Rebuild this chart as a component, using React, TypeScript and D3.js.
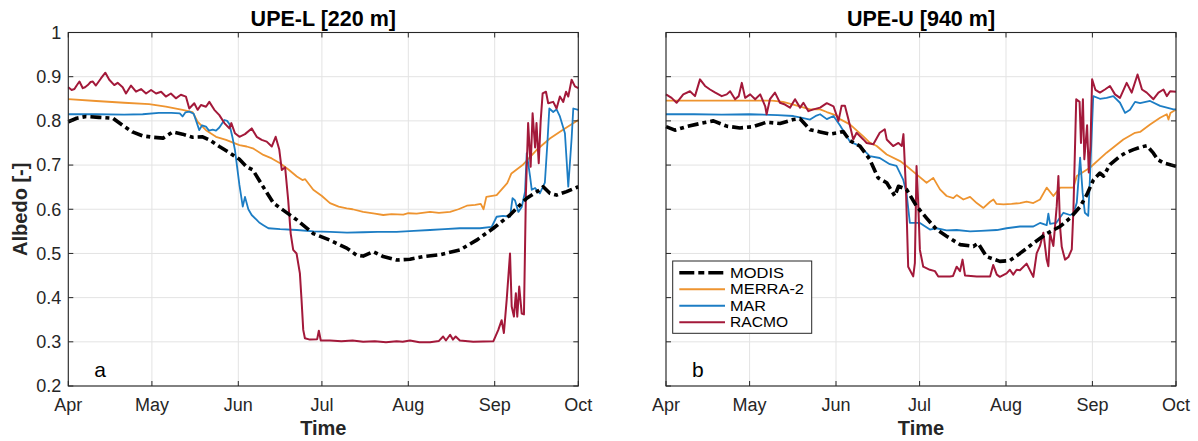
import React from "react";
import * as d3 from "d3";

type Pt = [number, number];

// day offsets from Apr 1, albedo values
const monthLabels = ["Apr", "May", "Jun", "Jul", "Aug", "Sep", "Oct"];
const monthDays = [0, 30, 61, 91, 122, 153, 183];
const yTicks = [0.2, 0.3, 0.4, 0.5, 0.6, 0.7, 0.8, 0.9, 1];
const yTickLabels = ["0.2", "0.3", "0.4", "0.5", "0.6", "0.7", "0.8", "0.9", "1"];

const seriesNames = ["MODIS", "MERRA-2", "MAR", "RACMO"];
const legendTextWidths = [54, 74, 36, 58];
const seriesColors = ["#000000", "#EE9430", "#1C7DC4", "#A3193A"];
const panelTitles = ["UPE-L [220 m]", "UPE-U [940 m]"];
const panelLetters = ["a", "b"];

const modisA: Pt[] = [[0,0.798],[3,0.806],[6.4,0.810],[11,0.808],[16,0.806],[19.5,0.790],[23,0.775],[26.7,0.766],[30.3,0.763],[34,0.761],[37.5,0.775],[41,0.770],[44.6,0.763],[48.2,0.764],[50.6,0.757],[54.2,0.742],[57.8,0.728],[61.4,0.713],[64,0.696],[66.2,0.689],[70,0.650],[73.6,0.614],[77.1,0.598],[82,0.576],[87.9,0.545],[93.9,0.530],[99.9,0.512],[103.5,0.496],[105.8,0.494],[109.4,0.504],[113,0.493],[117.8,0.485],[122.6,0.487],[127.4,0.493],[133.5,0.497],[140.5,0.508],[146.5,0.530],[152.5,0.557],[158.5,0.587],[164.5,0.625],[169.2,0.644],[170.4,0.651],[172.8,0.636],[175.2,0.632],[178.8,0.640],[183,0.651]];
const merraA: Pt[] = [[0,0.849],[10,0.845],[20,0.841],[29,0.838],[35,0.832],[41,0.825],[44.6,0.820],[46.4,0.798],[49.4,0.779],[53,0.764],[56.6,0.757],[61.4,0.745],[64,0.742],[66.2,0.738],[70,0.723],[73,0.715],[76,0.704],[79,0.690],[82,0.674],[84,0.666],[85,0.668],[87.9,0.644],[91,0.630],[93.9,0.614],[97,0.606],[99.9,0.602],[102,0.600],[105.8,0.594],[110,0.590],[113,0.587],[116,0.589],[120.2,0.588],[122,0.591],[125,0.590],[129.8,0.594],[133,0.592],[137,0.594],[140,0.600],[143,0.608],[146,0.610],[148,0.612],[149,0.600],[150,0.628],[153.7,0.632],[157.5,0.659],[159,0.681],[163,0.700],[168,0.734],[172.8,0.760],[177.5,0.780],[183,0.802]];
const marA: Pt[] = [[0,0.815],[10,0.815],[20,0.814],[26.7,0.815],[32.5,0.818],[37,0.818],[40,0.817],[41,0.810],[42,0.819],[43.4,0.821],[45,0.816],[47,0.779],[48,0.790],[49.4,0.787],[50.5,0.778],[51.8,0.780],[53,0.778],[54.2,0.785],[56,0.802],[57,0.800],[57.8,0.793],[59,0.760],[59.8,0.734],[61.4,0.655],[62.6,0.606],[63.4,0.628],[64.6,0.600],[65.8,0.587],[67.6,0.576],[68.5,0.570],[70,0.564],[71.8,0.557],[76,0.555],[82,0.553],[88,0.550],[94,0.549],[100,0.547],[105.8,0.548],[111,0.549],[117.8,0.549],[124,0.551],[129.8,0.553],[135,0.555],[140.5,0.557],[147.7,0.557],[151.9,0.560],[153.7,0.583],[156,0.585],[158.5,0.583],[159.4,0.625],[160.3,0.620],[161.5,0.594],[162.7,0.605],[163.9,0.640],[164.5,0.727],[165.7,0.674],[166.3,0.644],[167.5,0.648],[169.2,0.636],[171,0.660],[171.9,0.749],[172.6,0.828],[174,0.820],[175.2,0.826],[176.4,0.810],[178.2,0.772],[179.4,0.651],[180.6,0.760],[181.2,0.828],[183,0.825]];
const racmoA: Pt[] = [[0,0.876],[1.2,0.870],[2.2,0.872],[3,0.880],[4,0.889],[5.2,0.874],[6,0.876],[7,0.881],[8,0.888],[8.8,0.889],[9.9,0.880],[11.7,0.896],[13.3,0.909],[14.7,0.893],[16.5,0.881],[17.7,0.886],[19.5,0.876],[20.7,0.862],[22.5,0.880],[24.3,0.866],[26.1,0.872],[27.9,0.862],[29.7,0.870],[31.5,0.862],[33.3,0.866],[35,0.855],[36.8,0.862],[38.6,0.851],[40.4,0.859],[42.2,0.855],[43.4,0.828],[45.2,0.840],[46.4,0.825],[47.6,0.836],[49.4,0.832],[50.6,0.843],[52.4,0.825],[54.2,0.813],[56,0.795],[57.8,0.783],[58.5,0.795],[59.8,0.772],[61.4,0.764],[63.4,0.770],[65.8,0.783],[67.6,0.764],[69.4,0.757],[71.2,0.753],[73,0.742],[74.4,0.764],[75.7,0.735],[76.6,0.689],[77.8,0.695],[78.9,0.621],[79.8,0.545],[80.7,0.508],[81.9,0.500],[83.1,0.455],[83.7,0.394],[84.3,0.327],[84.9,0.308],[86.7,0.305],[89.3,0.306],[89.9,0.325],[90.6,0.303],[93.9,0.303],[98,0.301],[102,0.303],[105.8,0.300],[110,0.301],[114,0.299],[117.8,0.301],[120,0.300],[122.6,0.303],[126,0.299],[129.8,0.299],[133,0.302],[134.5,0.312],[135.5,0.303],[137,0.316],[138,0.305],[139,0.312],[140.5,0.303],[145.3,0.300],[152.5,0.301],[154.3,0.327],[155.5,0.349],[156.3,0.320],[157.3,0.395],[158.5,0.500],[159.1,0.380],[159.9,0.357],[160.6,0.410],[161.1,0.357],[161.8,0.425],[162.7,0.364],[163.5,0.362],[164.2,0.636],[165,0.795],[165.9,0.696],[166.6,0.817],[167.5,0.740],[168,0.795],[168.8,0.704],[169.5,0.800],[170.2,0.862],[171.4,0.866],[172.2,0.840],[174,0.843],[175.2,0.828],[176.4,0.855],[177.6,0.843],[178.6,0.866],[179.4,0.855],[180.6,0.893],[181.8,0.878],[183,0.874]];

const modisB: Pt[] = [[0,0.787],[3.2,0.779],[7.4,0.787],[12.2,0.794],[17,0.800],[21.8,0.788],[26.5,0.784],[31.3,0.787],[36.1,0.797],[40.9,0.794],[45.7,0.803],[48.1,0.805],[51.7,0.780],[55.3,0.775],[58.9,0.770],[62.4,0.774],[63.6,0.776],[66,0.755],[69.6,0.743],[73.1,0.713],[76.1,0.671],[79.2,0.660],[82.1,0.630],[83.4,0.652],[86.3,0.645],[89.9,0.607],[93.5,0.580],[97.1,0.554],[100.7,0.539],[105.5,0.520],[110.3,0.516],[112,0.523],[115,0.493],[119.8,0.482],[123.4,0.484],[127,0.500],[131.8,0.523],[136.6,0.545],[141.4,0.561],[145,0.580],[148.6,0.606],[151,0.633],[153.4,0.667],[155.7,0.682],[157,0.675],[159.3,0.701],[162.9,0.720],[165,0.728],[167.7,0.735],[170,0.740],[172.5,0.744],[174.9,0.727],[176.5,0.712],[178.5,0.705],[183,0.697]];
const merraB: Pt[] = [[0,0.846],[20,0.846],[38,0.846],[42,0.843],[45.7,0.837],[51.7,0.826],[55.3,0.826],[57.7,0.820],[61.3,0.812],[62.4,0.804],[66,0.792],[70.8,0.765],[73.1,0.751],[75.6,0.743],[79.2,0.724],[84,0.709],[86.3,0.698],[89.9,0.679],[93.5,0.660],[95.9,0.671],[98.3,0.645],[100.7,0.630],[103.1,0.625],[104.3,0.632],[106.7,0.622],[109.1,0.628],[111.5,0.614],[113.9,0.603],[116.3,0.617],[117.5,0.622],[118.6,0.612],[121.1,0.611],[124,0.612],[127,0.614],[129.4,0.617],[131.8,0.614],[134.2,0.622],[136.6,0.649],[139,0.630],[141.4,0.649],[146.2,0.649],[147.4,0.675],[152.1,0.694],[158.1,0.728],[164.1,0.758],[168.3,0.773],[170.1,0.775],[173.7,0.792],[177.3,0.807],[179.7,0.815],[180.3,0.803],[181,0.818],[183,0.826]];
const marB: Pt[] = [[0,0.815],[10,0.815],[20,0.814],[30,0.815],[40,0.813],[45.7,0.811],[48,0.808],[51.7,0.803],[54,0.812],[55.3,0.815],[57.7,0.804],[60.1,0.811],[62.4,0.790],[66,0.753],[69.6,0.743],[73.1,0.720],[76.7,0.716],[80.3,0.702],[82.7,0.698],[85.1,0.667],[86.3,0.637],[87.5,0.569],[91.1,0.569],[94.7,0.554],[97,0.557],[100.7,0.552],[104.3,0.553],[109.1,0.550],[113,0.551],[118.7,0.553],[122.2,0.557],[127,0.561],[131.8,0.561],[134.2,0.569],[136.6,0.564],[137.2,0.590],[137.8,0.567],[140,0.569],[142.6,0.592],[145,0.587],[146.2,0.590],[147.4,0.615],[148.6,0.717],[149.5,0.637],[150.3,0.592],[151.5,0.585],[152.1,0.668],[153.3,0.856],[155.7,0.850],[158.1,0.852],[160.5,0.856],[162.9,0.841],[164.7,0.818],[166.5,0.825],[168.3,0.843],[170.1,0.840],[173.7,0.845],[177.3,0.834],[182.1,0.826],[183,0.826]];
const racmoB: Pt[] = [[0,0.860],[2,0.852],[3.8,0.841],[6.2,0.860],[8.6,0.867],[10.4,0.856],[12.2,0.894],[14,0.879],[15.8,0.871],[17.7,0.864],[20,0.856],[21.8,0.860],[23,0.867],[24.8,0.849],[26.1,0.856],[27.2,0.886],[28.4,0.852],[30.2,0.860],[32,0.849],[33.8,0.860],[35.6,0.833],[36.1,0.815],[37.3,0.849],[39.1,0.864],[40.9,0.841],[42.7,0.837],[44.5,0.830],[46.3,0.849],[48.1,0.830],[49.3,0.841],[51.1,0.822],[52.9,0.826],[55.3,0.830],[57.7,0.840],[60.1,0.833],[61.9,0.800],[63,0.834],[64.2,0.834],[65.4,0.805],[67.2,0.758],[68.4,0.773],[70.8,0.758],[72,0.750],[74.4,0.747],[76.7,0.773],[78.5,0.781],[79.2,0.758],[81.5,0.743],[83.4,0.750],[84.6,0.743],[85.2,0.770],[86.1,0.645],[86.9,0.470],[88.7,0.448],[89.3,0.478],[89.9,0.698],[90.5,0.614],[91.1,0.508],[92.3,0.470],[94.7,0.463],[96.5,0.460],[97.7,0.448],[101.9,0.448],[103,0.449],[104.3,0.470],[105.5,0.460],[106.4,0.486],[107.3,0.450],[111.5,0.448],[116.3,0.448],[117.4,0.474],[118.7,0.452],[119.8,0.447],[122.2,0.455],[123.4,0.463],[124.6,0.452],[125.8,0.463],[127,0.462],[129.4,0.477],[131.8,0.447],[133,0.500],[134.2,0.517],[135.4,0.547],[136.6,0.486],[137.2,0.471],[137.8,0.545],[139,0.517],[140.2,0.607],[140.8,0.675],[141.4,0.560],[142,0.515],[142.6,0.500],[143.2,0.486],[144.4,0.492],[145.6,0.509],[146.2,0.600],[147.2,0.849],[148.4,0.843],[148.9,0.750],[149.6,0.849],[150.1,0.713],[151.1,0.790],[151.7,0.683],[152.3,0.742],[152.9,0.894],[154.1,0.870],[155.7,0.864],[157.5,0.871],[159.3,0.879],[161.1,0.860],[162.9,0.852],[165.3,0.886],[167.1,0.864],[169.2,0.905],[170.8,0.871],[172.5,0.864],[174.9,0.849],[176.7,0.864],[178.5,0.871],[179.7,0.856],[180.9,0.867],[183,0.866]];

const FONT = "'Liberation Sans', Arial, Helvetica, sans-serif";
const AX = "#262626";
const TOP = 32.5;
const BOTTOM = 386;
const WIDTH = 510;

function Panel({ x0, idx, data, showYLabels, showLegend }: { x0: number; idx: number; data: Pt[][]; showYLabels: boolean; showLegend: boolean }) {
  const x = d3.scaleLinear().domain([0, 183]).range([x0, x0 + WIDTH]);
  const y = d3.scaleLinear().domain([0.2, 1]).range([BOTTOM, TOP]);
  const line = d3.line<Pt>().x((d) => x(d[0])).y((d) => y(d[1]));
  const cx = x0 + WIDTH / 2;
  const order = [1, 2, 3, 0];
  return (
    <g>
      <rect x={x0} y={TOP} width={WIDTH} height={BOTTOM - TOP} fill="#fff" />
      {monthDays.map((d, i) => (
        <line key={"gx" + i} x1={x(d)} x2={x(d)} y1={TOP} y2={BOTTOM} stroke="#e3e3e3" strokeWidth={1} />
      ))}
      {yTicks.map((v, i) => (
        <line key={"gy" + i} x1={x0} x2={x0 + WIDTH} y1={y(v)} y2={y(v)} stroke="#e3e3e3" strokeWidth={1} />
      ))}
      {order.map((si) => (
        <path
          key={"s" + si}
          d={line(data[si]) || ""}
          fill="none"
          stroke={seriesColors[si]}
          strokeWidth={si === 0 ? 3.6 : si === 3 ? 2 : 1.8}
          strokeDasharray={si === 0 ? "11,4,4,4" : undefined}
          strokeLinejoin="round"
        />
      ))}
      <rect x={x0} y={TOP} width={WIDTH} height={BOTTOM - TOP} fill="none" stroke={AX} strokeWidth={1.1} />
      {yTicks.map((v, i) => (
        <g key={"ty" + i}>
          <line x1={x0} x2={x0 + 5} y1={y(v)} y2={y(v)} stroke={AX} strokeWidth={1} />
          <line x1={x0 + WIDTH - 5} x2={x0 + WIDTH} y1={y(v)} y2={y(v)} stroke={AX} strokeWidth={1} />
          {showYLabels && (
            <text x={x0 - 7} y={y(v)} dy="0.35em" textAnchor="end" fontFamily={FONT} fontSize={18} fill={AX}>
              {yTickLabels[i]}
            </text>
          )}
        </g>
      ))}
      {monthDays.map((d, i) => (
        <g key={"tx" + i}>
          <line x1={x(d)} x2={x(d)} y1={BOTTOM} y2={BOTTOM - 5} stroke={AX} strokeWidth={1} />
          <line x1={x(d)} x2={x(d)} y1={TOP} y2={TOP + 5} stroke={AX} strokeWidth={1} />
          <text x={x(d)} y={411} textAnchor="middle" fontFamily={FONT} fontSize={18} fill={AX}>
            {monthLabels[i]}
          </text>
        </g>
      ))}
      <text x={cx} y={26} textAnchor="middle" fontFamily={FONT} fontSize={21.5} fontWeight="bold" fill="#000">
        {panelTitles[idx]}
      </text>
      <text x={cx} y={435} textAnchor="middle" fontFamily={FONT} fontSize={20} fontWeight="bold" fill={AX}>
        Time
      </text>
      {showYLabels && (
        <text
          transform={`translate(27,${(TOP + BOTTOM) / 2}) rotate(-90)`}
          textAnchor="middle"
          fontFamily={FONT}
          fontSize={20}
          fontWeight="bold"
          fill={AX}
        >
          Albedo [-]
        </text>
      )}
      <text x={x0 + 26} y={377} fontFamily={FONT} fontSize={21} fill="#000">
        {panelLetters[idx]}
      </text>
      {showLegend && (
        <g>
          <rect x={x0 + 6.7} y={261} width={139} height={72.3} fill="#fff" stroke={AX} strokeWidth={1} />
          {seriesNames.map((n, i) => {
            const ly = 272.7 + i * 16.5;
            return (
              <g key={"lg" + i}>
                <line
                  x1={x0 + 13.3}
                  x2={x0 + 59}
                  y1={ly}
                  y2={ly}
                  stroke={seriesColors[i]}
                  strokeWidth={i === 0 ? 3.6 : 2}
                  strokeDasharray={i === 0 ? "15,4,6,4" : undefined}
                />
                <text
                  x={x0 + 64}
                  y={ly}
                  dy="0.36em"
                  fontFamily={FONT}
                  fontSize={14.3}
                  textLength={legendTextWidths[i]}
                  lengthAdjust="spacingAndGlyphs"
                  fill="#000"
                >
                  {n}
                </text>
              </g>
            );
          })}
        </g>
      )}
    </g>
  );
}

export default function App() {
  return (
    <svg
      width={1198}
      height={441}
      viewBox="0 0 1198 441"
      style={{ position: "absolute", left: 0, top: 0, display: "block", background: "#fff" }}
    >
      <rect x={0} y={0} width={1198} height={441} fill="#fff" />
      <Panel x0={68.3} idx={0} data={[modisA, merraA, marA, racmoA]} showYLabels={true} showLegend={false} />
      <Panel x0={666} idx={1} data={[modisB, merraB, marB, racmoB]} showYLabels={false} showLegend={true} />
    </svg>
  );
}
